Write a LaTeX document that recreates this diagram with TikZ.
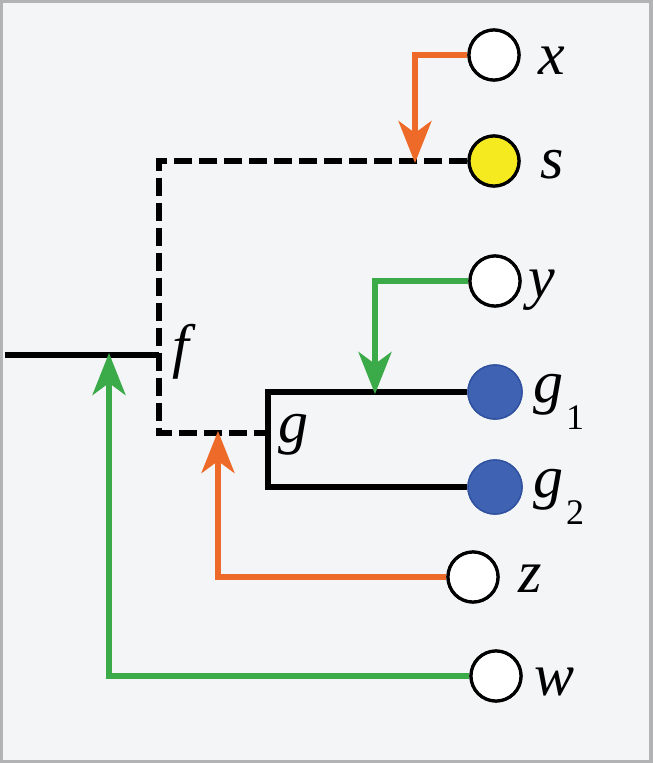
\documentclass[tikz,border=0pt]{standalone}
\usepackage{fontspec}
\setmainfont{Liberation Serif}
\newfontfamily\lblfont{Liberation Serif Italic}
\usetikzlibrary{arrows.meta}
\definecolor{bgc}{RGB}{244,245,247}
\definecolor{framec}{RGB}{178,179,181}
\definecolor{orng}{RGB}{238,106,40}
\definecolor{grn}{RGB}{59,170,73}
\definecolor{blu}{RGB}{63,99,178}
\definecolor{bluedge}{RGB}{48,82,160}
\definecolor{yel}{RGB}{245,234,32}
\tikzset{
  leaf/.style={circle, draw=black, line width=3.2pt, fill=white, minimum size=50pt, inner sep=0pt},
  yleaf/.style={leaf, fill=yel},
  bleaf/.style={circle, draw=bluedge, line width=1.5pt, fill=blu, minimum size=54pt, inner sep=0pt},
  lbl/.style={anchor=base west, inner sep=0pt, font=\lblfont\fontsize{60}{60}\selectfont},
  branch/.style={line width=5.5pt, black},
  dbranch/.style={branch, dash pattern=on 18pt off 7pt},
  oarrow/.style={line width=5.5pt, orng, -{Stealth[length=42pt, width=33pt, inset=12pt]}},
  garrow/.style={line width=5.5pt, grn, -{Stealth[length=42pt, width=33pt, inset=12pt]}},
}
\newcommand{\subnum}[1]{\kern3pt\raisebox{-0.45em}{\rmfamily\upshape\fontsize{36}{36}\selectfont #1}}
\begin{document}
\begin{tikzpicture}[x=1pt, y=-1pt]
\useasboundingbox (0,0) rectangle (653,763);
\fill[framec] (0,0) rectangle (653,763);
\fill[bgc] (3,3) rectangle (649,760);

% leaves
\node[leaf]  (x)  at (494,55)  {};
\node[yleaf] (s)  at (494,161) {};
\node[leaf]  (y)  at (495,281) {};
\node[bleaf] (g1) at (495,392) {};
\node[bleaf] (g2) at (495,487) {};
\node[leaf]  (z)  at (473,577) {};
\node[leaf]  (w)  at (496,676) {};

% labels
\node[lbl] (lx)  at (538,74)  {x};
\node[lbl] (ls)  at (540,178) {s};
\node[lbl] (ly)  at (528,297) {y};
\node[lbl] (lg1) at (533,402) {g\subnum{1}};
\node[lbl] (lg2) at (533,497) {g\subnum{2}};
\node[lbl] (lz)  at (518,592) {z};
\node[lbl] (lw)  at (534,695) {w};
\node[lbl] (lf)  at (172,366) {f};
\node[lbl] (lg)  at (278,442) {g};

% junction coordinates
\coordinate (root) at (5,355);
\coordinate (fj)   at (159,355);
\coordinate (ftop) at (159,161);
\coordinate (fbot) at (159,433);
\coordinate (gmid) at (268,433);
\coordinate (gx)   at (268,0);
\coordinate (ax) at (415,163);
\coordinate (ay) at (375,394);
\coordinate (az) at (218,431);
\coordinate (aw) at (109,353);

% tree
\draw[branch] (root) -- (fj);
\draw[dbranch] (s.west) -- (ftop) -- (fbot) -- (gmid);
\draw[branch, line join=miter] (g1.west) -- (g1.west -| gx) -- (g2.west -| gx) -- (g2.west);

% arrows
\draw[oarrow] (x.west) -| (ax);
\draw[garrow] (y.west) -| (ay);
\draw[oarrow] (z.west) -| (az);
\draw[garrow] (w.west) -| (aw);

% redraw leaves on top
\node[leaf]  at (x)  {};
\node[yleaf] at (s)  {};
\node[leaf]  at (y)  {};
\node[bleaf] at (g1) {};
\node[bleaf] at (g2) {};
\node[leaf]  at (z)  {};
\node[leaf]  at (w)  {};
\end{tikzpicture}
\end{document}
